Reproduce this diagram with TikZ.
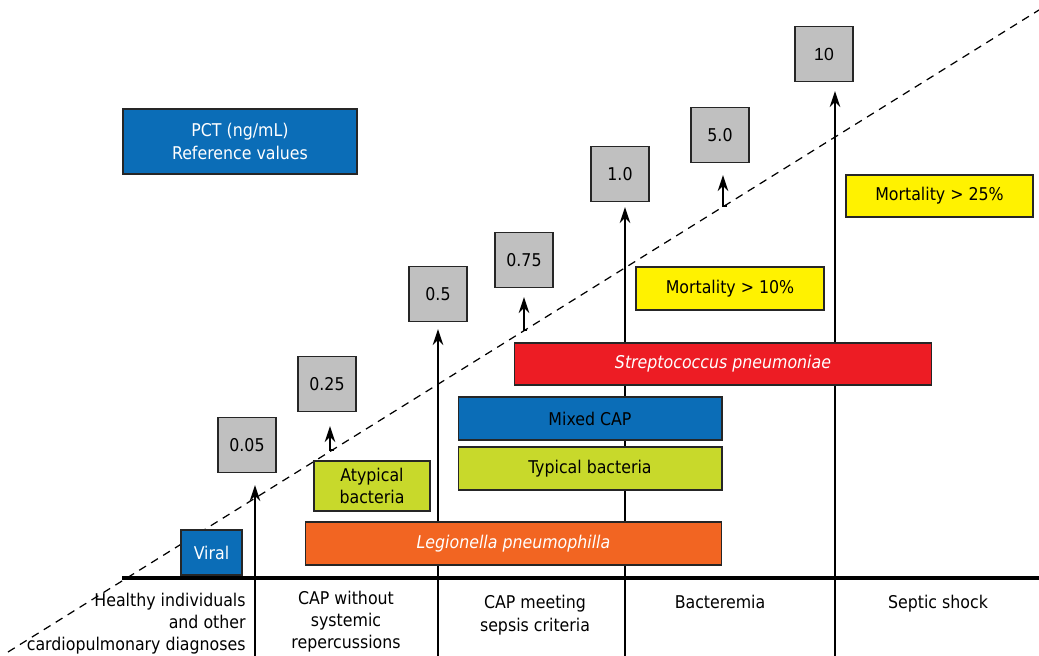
\documentclass[tikz,border=0pt]{standalone}
\usepackage{fontspec}
\setmainfont{DejaVu Sans Condensed}
\newfontfamily\arialfont{Liberation Sans}
\usetikzlibrary{arrows.meta}

\definecolor{pctblue}{HTML}{0B6DB7}
\definecolor{limegreen}{HTML}{C8D92B}
\definecolor{legorange}{HTML}{F26522}
\definecolor{strepred}{HTML}{ED1C24}
\definecolor{mortyellow}{HTML}{FFF200}
\definecolor{valgray}{HTML}{C0C0C0}

\tikzset{
  valbox/.style={draw=black!85, line width=0.8pt, fill=valgray, inner sep=0pt,
    minimum width=1.16cm, minimum height=1.1cm},
  bar/.style={draw=black!85, line width=0.6pt, inner sep=0pt, align=center,
    minimum height=0.86cm},
  uparrow/.style={line width=0.8pt, -{Stealth[length=9pt,width=6pt]}},
  caption/.style={align=center, anchor=north, inner sep=0pt}
}

\begin{document}
\begin{tikzpicture}[x=0.02cm, y=-0.02cm, font=\fontsize{10}{13}\selectfont]
  \useasboundingbox (0,0) rectangle (1039,656);

  % PCT values
  \node[valbox] (v005) at (247,445) {0.05};
  \node[valbox] (v025) at (327,384) {0.25};
  \node[valbox] (v05) at (438,294) {0.5};
  \node[valbox] (v075) at (524,260) {0.75};
  \node[valbox] (v1) at (620,174) {1.0};
  \node[valbox] (v5) at (720,135) {5.0};
  \node[valbox, font=\arialfont\fontsize{10}{12}\selectfont] (v10) at (824,54) {10};

  % trend line and axis
  \draw[dashed, line width=0.7pt, dash pattern=on 4.5pt off 3.5pt] (8,652) -- (1039,10);
  \draw[line width=2.8pt] (122,578) -- (1039,578);

  % long arrows from the bottom
  \coordinate (b1) at (255,656);
  \coordinate (b2) at (438,656);
  \coordinate (b3) at (625,656);
  \coordinate (b4) at (835,656);
  \draw[uparrow, shorten >=0.24cm] (b1) -- (b1 |- v005.south);
  \draw[uparrow, shorten >=0.14cm] (b2) -- (b2 |- v05.south);
  \draw[uparrow, shorten >=0.1cm] (b3) -- (b3 |- v1.south);
  \draw[uparrow, shorten >=0.18cm] (b4) -- (b4 |- v10.south);

  % short arrows off the trend line
  \coordinate (j1) at (334,450);
  \coordinate (j2) at (527,330);
  \coordinate (j3) at (727,206);
  \draw[uparrow] (j1) -| ([shift={(3,14)}]v025.south);
  \draw[uparrow] (j2) -| ([shift={(0,9)}]v075.south);
  \draw[uparrow] (j3) -| ([shift={(3,12)}]v5.south);

  % coloured bars
  \node[bar, fill=pctblue, text=white, minimum width=4.68cm, minimum height=1.3cm]
    (pct) at (240,141.5) {PCT (ng/mL)\\Reference values};
  \node[bar, fill=pctblue, text=white, minimum width=1.22cm, minimum height=0.9cm]
    (viral) at (211.5,552.5) {Viral};
  \node[bar, fill=limegreen, minimum width=2.32cm, minimum height=1.0cm]
    (atyp) at (372,486) {Atypical\\bacteria};
  \node[bar, fill=legorange, text=white, minimum width=8.34cm, font=\itshape]
    (leg) at (513.5,543.5) {Legionella pneumophilla};
  \node[bar, fill=limegreen, minimum width=5.28cm] (typ) at (590,468.5) {Typical bacteria};
  \node[bar, fill=pctblue, minimum width=5.28cm] (mixed) at (590,418.5) {Mixed CAP};
  \node[bar, fill=strepred, text=white, minimum width=8.36cm, minimum height=0.84cm, font=\itshape]
    (strep) at (723,364) {Streptococcus pneumoniae};
  \node[bar, fill=mortyellow, minimum width=3.76cm] (m10) at (730,288.5) {Mortality > 10\%};
  \node[bar, fill=mortyellow, minimum width=3.74cm, minimum height=0.84cm]
    (m25) at (939.5,196) {Mortality > 25\%};

  % categories
  \node[caption, anchor=north east, align=right, font=\fontsize{10}{12.6}\selectfont]
    (healthy) at (246,593) {Healthy individuals\\and other\\cardiopulmonary diagnoses};
  \node[caption, font=\fontsize{10}{12.6}\selectfont] (capwo) at (346,591)
    {CAP without\\systemic\\repercussions};
  \node[caption] (capsep) at (535,595) {CAP meeting\\sepsis criteria};
  \node[caption] (bact) at (720,595) {Bacteremia};
  \node[caption] (shock) at (938,595) {Septic shock};
\end{tikzpicture}
\end{document}
